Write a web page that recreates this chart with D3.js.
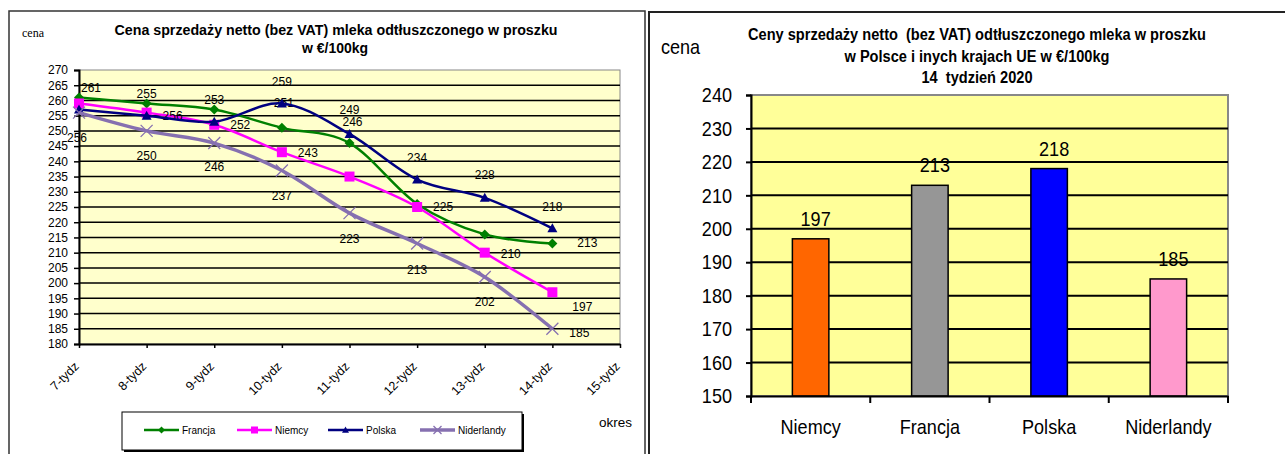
<!DOCTYPE html>
<html>
<head>
<meta charset="utf-8">
<script src="https://cdn.jsdelivr.net/npm/d3@7"></script>
<style>
  body { margin: 0; background: #fff; }
  svg text { font-family: "Liberation Sans", Arial, sans-serif; fill: #000; }
</style>
</head>
<body>
<div id="chart"></div>
<script>
// weekly prices, EUR/100kg
var weeks = ["7-tydz", "8-tydz", "9-tydz", "10-tydz", "11-tydz", "12-tydz", "13-tydz", "14-tydz", "15-tydz"];
var francja    = [261, 259, 257, 251, 246, 226, 216, 213];
var niemcy     = [259, 256, 252, 243, 235, 225, 210, 197];
var polska     = [257, 255, 253, 259, 249, 234, 228, 218];
var niderlandy = [256, 250, 246, 237, 223, 213, 202, 185];
var lineTicks  = [180, 185, 190, 195, 200, 205, 210, 215, 220, 225, 230, 235, 240, 245, 250, 255, 260, 265, 270];

// week 14 snapshot
var countries = ["Niemcy", "Francja", "Polska", "Niderlandy"];
var barValues = [197, 213, 218, 185];
var barTicks  = [150, 160, 170, 180, 190, 200, 210, 220, 230, 240];

var totalWidth = 1285, totalHeight = 454;
var svg = d3.select("#chart").append("svg")
    .attr("width", totalWidth)
    .attr("height", totalHeight);

// panel frames
svg.append("rect").attr("x", 9).attr("y", 11).attr("width", 636).attr("height", 460)
   .attr("fill", "none").attr("stroke", "#333").attr("stroke-width", 1.5);
svg.append("rect").attr("x", 649).attr("y", 12).attr("width", 660).attr("height", 460)
   .attr("fill", "none").attr("stroke", "#222").attr("stroke-width", 2);

// ---------------- left: line chart ----------------
var L = {left: 79, right: 620, top: 70, bottom: 344};
var x1 = d3.scalePoint().domain(weeks).range([L.left, L.right]);
var y1 = d3.scaleLinear().domain([180, 270]).range([L.bottom, L.top]);

var series = [
  {name: "Francja",    values: francja,    color: "#008000", width: 2.5, marker: "diamond"},
  {name: "Niemcy",     values: niemcy,     color: "#FF00FF", width: 2.5, marker: "square"},
  {name: "Polska",     values: polska,     color: "#000080", width: 2.5, marker: "triangle"},
  {name: "Niderlandy", values: niderlandy, color: "#8670B0", width: 3.5, marker: "cross"}
];
// where each data label sits relative to its point (null = no label)
var labelOffsets = {
  Francja:    [[12, -10], null, null, [2, -25], [3, -21], null, null, [35, -1]],
  Niemcy:     [null, [26, 3], [26, 0], [26, 1], null, [26, 0], [26, 1], [30, 15]],
  Polska:     [null, [0, -22], [0, -22], [0, -22], [0, -24], [0, -22], [0, -23], [0, -22]],
  Niderlandy: [[-2, 25], [0, 25], [0, 24], [0, 25], [0, 26], [0, 26], [0, 25], [27, 4]]
};

var lp = svg.append("g");
lp.append("rect").attr("x", L.left).attr("y", L.top)
  .attr("width", L.right - L.left).attr("height", L.bottom - L.top)
  .attr("fill", "#FFFFCC").attr("stroke", "#888").attr("stroke-width", 1);

lp.append("g").selectAll("line")
  .data(lineTicks.filter(function(d){ return d > 180 && d < 270; }))
  .enter().append("line")
    .attr("x1", L.left).attr("x2", L.right)
    .attr("y1", function(d){ return y1(d); }).attr("y2", function(d){ return y1(d); })
    .attr("stroke", "#000").attr("stroke-width", 1.5);

var yAxis1 = lp.append("g").attr("transform", "translate(" + L.left + ",0)")
  .call(d3.axisLeft(y1).tickValues(lineTicks).tickSize(5).tickPadding(6));
yAxis1.select(".domain").attr("stroke", "#000").attr("stroke-width", 2);
yAxis1.selectAll(".tick line").attr("stroke", "#000").attr("stroke-width", 1.5);
yAxis1.selectAll("text").style("font-size", "12px").attr("fill", "#000");

var xAxis1 = lp.append("g").attr("transform", "translate(0," + L.bottom + ")")
  .call(d3.axisBottom(x1).tickSize(4).tickSizeOuter(0));
xAxis1.select(".domain").attr("stroke", "#000").attr("stroke-width", 2);
xAxis1.selectAll(".tick line").attr("stroke", "#000").attr("stroke-width", 1.5);
xAxis1.selectAll("text")
  .style("font-size", "12.5px")
  .attr("text-anchor", "end")
  .attr("x", 0).attr("y", 0).attr("dy", "0.35em")
  .attr("transform", "translate(-3,20) rotate(-45)");

var line = d3.line()
  .x(function(d, i){ return x1(weeks[i]); })
  .y(function(d){ return y1(d); })
  .curve(d3.curveCardinal.tension(0));

function drawMarker(g, type, cx, cy, color, s) {
  if (type == "diamond")
    g.append("path").attr("d", "M" + cx + "," + (cy - s) + "L" + (cx + s) + "," + cy + "L" + cx + "," + (cy + s) + "L" + (cx - s) + "," + cy + "Z").attr("fill", color);
  else if (type == "square")
    g.append("rect").attr("x", cx - s).attr("y", cy - s).attr("width", 2 * s).attr("height", 2 * s).attr("fill", color);
  else if (type == "triangle")
    g.append("path").attr("d", "M" + cx + "," + (cy - s) + "L" + (cx + s) + "," + (cy + s * 0.8) + "L" + (cx - s) + "," + (cy + s * 0.8) + "Z").attr("fill", color);
  else
    g.append("path").attr("d", "M" + (cx - s) + "," + (cy - s) + "L" + (cx + s) + "," + (cy + s) + "M" + (cx + s) + "," + (cy - s) + "L" + (cx - s) + "," + (cy + s))
      .attr("stroke", color).attr("stroke-width", 1.3).attr("fill", "none");
}

series.forEach(function(s) {
  var g = lp.append("g");
  g.append("path").datum(s.values)
    .attr("d", line).attr("fill", "none")
    .attr("stroke", s.color).attr("stroke-width", s.width);
  s.values.forEach(function(v, i) {
    drawMarker(g, s.marker, x1(weeks[i]), y1(v), s.color, s.marker == "cross" ? 6 : 5);
  });
  g.selectAll(".lbl")
    .data(s.values.map(function(v, i){ return {v: v, i: i, o: labelOffsets[s.name][i]}; })
                  .filter(function(d){ return d.o; }))
    .enter().append("text")
      .attr("x", function(d){ return x1(weeks[d.i]) + d.o[0]; })
      .attr("y", function(d){ return y1(d.v) + d.o[1]; })
      .attr("dy", "0.35em")
      .attr("text-anchor", "middle")
      .style("font-size", "12px")
      .text(function(d){ return d.v; });
});

lp.append("text").attr("x", 22).attr("y", 37)
  .style("font-family", "'Liberation Serif', 'Times New Roman', serif").style("font-size", "12px")
  .text("cena");
lp.append("text").attr("x", 336).attr("y", 35).attr("text-anchor", "middle")
  .style("font-size", "14px").style("font-weight", "bold")
  .attr("textLength", 443).attr("lengthAdjust", "spacingAndGlyphs")
  .text("Cena sprzedaży netto (bez VAT) mleka odtłuszczonego w proszku");
lp.append("text").attr("x", 335).attr("y", 53).attr("text-anchor", "middle")
  .style("font-size", "14px").style("font-weight", "bold")
  .text("w €/100kg");
lp.append("text").attr("x", 599).attr("y", 427).style("font-size", "13.5px").text("okres");

// legend
var leg = lp.append("g");
leg.append("rect").attr("x", 124).attr("y", 414).attr("width", 400).attr("height", 38).attr("fill", "#000");
leg.append("rect").attr("x", 122).attr("y", 412).attr("width", 400).attr("height", 38)
  .attr("fill", "#fff").attr("stroke", "#000").attr("stroke-width", 1);
var legX = [144, 237, 328, 420];
series.forEach(function(s, i) {
  var lx = legX[i];
  leg.append("line").attr("x1", lx).attr("x2", lx + 35).attr("y1", 430).attr("y2", 430)
    .attr("stroke", s.color).attr("stroke-width", s.width);
  drawMarker(leg, s.marker, lx + 17.5, 430, s.color, s.marker == "cross" ? 4 : 3.5);
  leg.append("text").attr("x", lx + 38).attr("y", 434).style("font-size", "10px").text(s.name);
});

// ---------------- right: bar chart ----------------
var R = {left: 751, right: 1228, top: 95, bottom: 396};
var x2 = d3.scaleBand().domain(countries).range([R.left, R.right]).padding(0);
var y2 = d3.scaleLinear().domain([150, 240]).range([R.bottom, R.top]);
var barColors = {Niemcy: "#FF6600", Francja: "#969696", Polska: "#0000FF", Niderlandy: "#FF99CC"};
var barW = x2.bandwidth() * 0.306;

var rp = svg.append("g");
rp.append("rect").attr("x", R.left).attr("y", R.top)
  .attr("width", R.right - R.left).attr("height", R.bottom - R.top)
  .attr("fill", "#FFFF99").attr("stroke", "#888").attr("stroke-width", 2);

rp.append("g").selectAll("line")
  .data(barTicks.filter(function(d){ return d > 150 && d < 240; }))
  .enter().append("line")
    .attr("x1", R.left).attr("x2", R.right)
    .attr("y1", function(d){ return y2(d); }).attr("y2", function(d){ return y2(d); })
    .attr("stroke", "#000").attr("stroke-width", 2);

rp.append("g").selectAll("rect")
  .data(countries)
  .enter().append("rect")
    .attr("x", function(d){ return x2(d) + x2.bandwidth() / 2 - barW / 2; })
    .attr("y", function(d, i){ return y2(barValues[i]); })
    .attr("width", barW)
    .attr("height", function(d, i){ return R.bottom - y2(barValues[i]); })
    .attr("fill", function(d){ return barColors[d]; })
    .attr("stroke", "#000").attr("stroke-width", 1.5);

rp.append("g").selectAll("text")
  .data(countries)
  .enter().append("text")
    .attr("class", "narrow")
    .attr("x", function(d){ return x2(d) + x2.bandwidth() / 2 + 5; })
    .attr("y", function(d, i){ return y2(barValues[i]) - 13; })
    .attr("text-anchor", "middle")
    .style("font-size", "21px")
    .text(function(d, i){ return barValues[i]; });

var yAxis2 = rp.append("g").attr("transform", "translate(" + R.left + ",0)")
  .call(d3.axisLeft(y2).tickValues(barTicks).tickSize(5).tickPadding(14));
yAxis2.select(".domain").attr("stroke", "#000").attr("stroke-width", 2);
yAxis2.selectAll(".tick line").attr("stroke", "#000").attr("stroke-width", 2);
yAxis2.selectAll("text").attr("class", "narrow").style("font-size", "21px").attr("fill", "#000");

var xAxis2 = rp.append("g").attr("transform", "translate(0," + R.bottom + ")")
  .call(d3.axisBottom(x2).tickSize(0).tickPadding(38));
xAxis2.select(".domain").attr("stroke", "#000").attr("stroke-width", 2);
xAxis2.selectAll("text").attr("class", "narrow").style("font-size", "21px").attr("fill", "#000").attr("dy", "0");
// ticks sit on band edges
rp.append("g").selectAll("line")
  .data(countries.concat([null]))
  .enter().append("line")
    .attr("x1", function(d){ return d ? x2(d) : R.right; })
    .attr("x2", function(d){ return d ? x2(d) : R.right; })
    .attr("y1", R.bottom).attr("y2", R.bottom + 7)
    .attr("stroke", "#000").attr("stroke-width", 2);

rp.append("text").attr("class", "narrow").attr("x", 661).attr("y", 54).style("font-size", "21px").text("cena");
var t2 = [
  {t: "Ceny sprzedaży netto  (bez VAT) odtłuszczonego mleka w proszku", y: 40, w: 458},
  {t: "w Polsce i inych krajach UE w €/100kg", y: 62, w: 265},
  {t: "14  tydzień 2020", y: 83, w: 111}
];
rp.selectAll(".title").data(t2).enter().append("text")
  .attr("x", 977).attr("y", function(d){ return d.y; })
  .attr("text-anchor", "middle")
  .style("font-size", "16px").style("font-weight", "bold")
  .attr("textLength", function(d){ return d.w; }).attr("lengthAdjust", "spacingAndGlyphs")
  .style("white-space", "pre")
  .text(function(d){ return d.t; });

// the source uses a condensed face: squeeze these texts horizontally
svg.selectAll("text.narrow").each(function() {
  var w = this.getComputedTextLength();
  d3.select(this).attr("textLength", w * 0.86).attr("lengthAdjust", "spacingAndGlyphs");
});
</script>
</body>
</html>
